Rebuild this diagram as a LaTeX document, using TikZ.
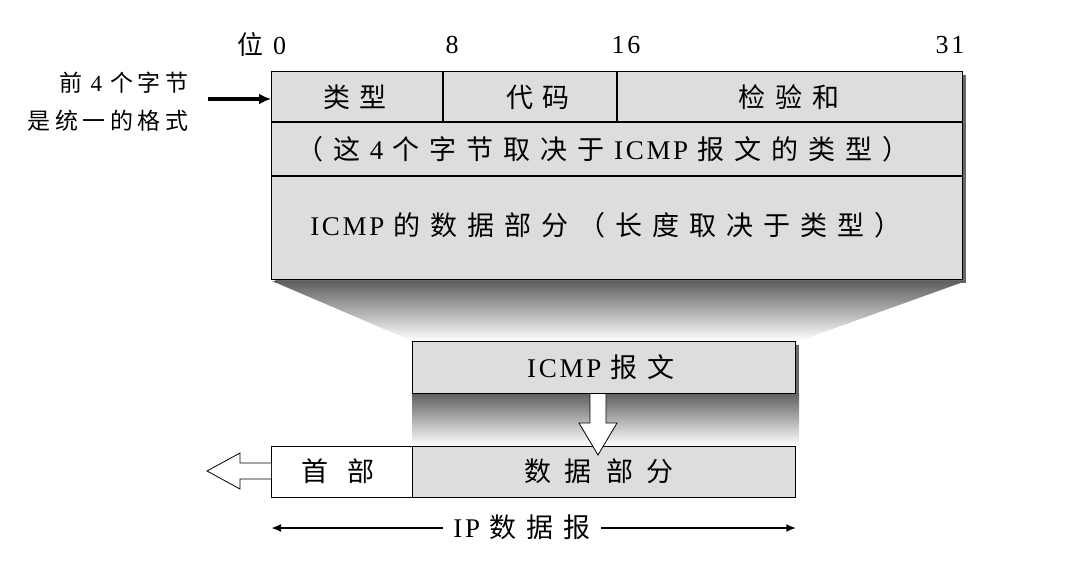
\documentclass[tikz,border=0pt]{standalone}
\usepackage{fontspec}
\setmainfont{Liberation Serif}[LetterSpace=10]
\newfontfamily\cjk[LetterSpace=37]{Noto Sans CJK SC}
\newfontfamily\cjks[LetterSpace=20]{Noto Sans CJK SC}
\usetikzlibrary{arrows.meta,calc}
\definecolor{boxgray}{RGB}{221,221,221}
\definecolor{shadowgray}{RGB}{105,105,105}
\definecolor{shadetop}{RGB}{95,95,95}
\begin{document}
\begin{tikzpicture}[x=1pt,y=-1pt,
  box/.style={draw=black, line width=1.3pt, fill=boxgray, rectangle, inner sep=0pt, anchor=north west},
  txt/.style={font=\fontsize{27}{30}\selectfont, inner sep=0pt},
  small/.style={font=\fontsize{23}{26}\selectfont, inner sep=0pt},
  bit/.style={font=\fontsize{26}{28}\selectfont, inner sep=0pt},
  blockarrow/.style={draw=black, line width=0.8pt, line join=miter}]
\useasboundingbox (0,0) rectangle (1080,562);

% shadows and shading
\fill[shadowgray] (275,75) rectangle (966,283);
\shade[top color=shadetop, bottom color=white] (272,281) -- (966,281) -- (799,341) -- (412,341) -- cycle;
\fill[shadowgray] (416,345) rectangle (799,397);
\shade[top color=shadetop, bottom color=white] (412,393) rectangle (799,446);

% top message box
\node[box, minimum width=691pt, minimum height=208pt] (msg) at (271,71) {};
\draw[line width=1.3pt] (271,122) -- (962,122);
\draw[line width=1.3pt] (271,176) -- (962,176);
\draw[line width=1.3pt] (443,71) -- (443,122);
\draw[line width=1.3pt] (617,71) -- (617,122);

\node[txt] (type) at (355,97) {\cjk 类型};
\node[txt] (code) at (538,97) {\cjk 代码};
\node[txt] (chk) at (789,97) {\cjk 检验和};
\node[txt] (row2) at (603,149) {{\cjk （这} 4 {\cjk 个字节取决于} ICMP {\cjk 报文的类型）}};
\node[txt] (row3) at (606,225) {ICMP {\cjk 的数据部分（长度取决于类型）}};

% bit labels
\node[bit] (b0) at (262,45) {{\cjk 位} 0};
\node[bit] (b8) at (452,45) {8};
\node[bit] (b16) at (626,45) {16};
\node[bit] (b31) at (950,45) {31};

% left label
\node[small] (l1) at (124,83) {{\cjks 前} 4 {\cjks 个字节}};
\node[small] (l2) at (108,121) {\cjks 是统一的格式};
\coordinate (la) at (208,99);
\draw[line width=3.5pt, -{Latex[length=12pt,width=11pt]}] (la) -- (msg.west |- la);

% ICMP message box
\node[box, minimum width=383pt, minimum height=52pt] (icmp) at (412,341) {};
\node[txt] (icmpt) at (601,367) {ICMP {\cjk 报文}};

% IP datagram
\node[box, fill=white, minimum width=141pt, minimum height=51pt] (hdr) at (271,446) {};
\node[box, minimum width=383pt, minimum height=51pt] (data) at (412,446) {};
\node[txt] (hdrt) at (338,471) {\cjk 首\hspace{20pt}部};
\node[txt] (datat) at (599,471) {\cjk 数\hspace{14pt}据\hspace{14pt}部\hspace{14pt}分};

% down block arrow
\fill[white] (590,394) -- (590,423) -- (579,423) -- (598,455) -- (617,423) -- (606,423) -- (606,394) -- cycle;
\draw[blockarrow] (590,394) -- (590,423) -- (579,423) -- (598,455) -- (617,423) -- (606,423) -- (606,394);

% left block arrow
\fill[white] (hdr.west |- 0,463) -- (240,463) -- (240,453) -- (207,471) -- (240,489) -- (240,479) -- (hdr.west |- 0,479) -- cycle;
\draw[blockarrow] (hdr.west |- 0,463) -- (240,463) -- (240,453) -- (207,471) -- (240,489) -- (240,479) -- (hdr.west |- 0,479);

% IP datagram span arrow
\coordinate (ipL) at (hdr.west |- 0,528);
\coordinate (ipR) at (data.east |- 0,528);
\draw[line width=2.2pt, {Latex[length=10pt,width=8pt]}-{Latex[length=10pt,width=8pt]}] (ipL) -- (ipR);
\node[txt, fill=white, inner xsep=10pt, inner ysep=4pt] (ip) at (522,527) {IP {\cjk 数据报}};
\end{tikzpicture}
\end{document}
